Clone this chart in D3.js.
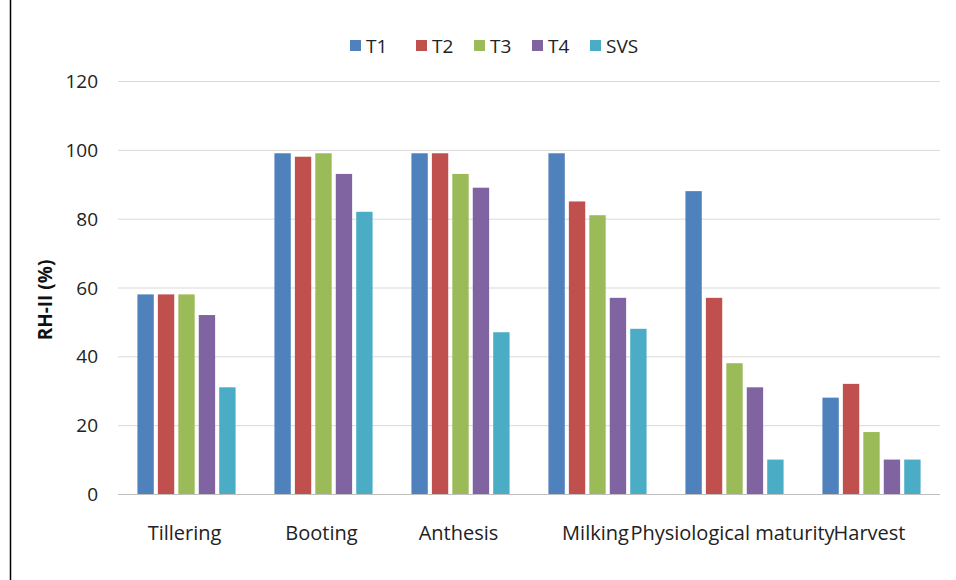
<!DOCTYPE html>
<html><head><meta charset="utf-8">
<script src="https://cdn.jsdelivr.net/npm/d3@7"></script>
<style>body{margin:0;background:#fff}svg{display:block;font-family:"Open Sans","Liberation Sans",sans-serif}</style>
</head><body><svg width="956" height="580"></svg>
<script>
const categories = ['Tillering', 'Booting', 'Anthesis', 'Milking', 'Physiological maturity', 'Harvest']
const seriesNames = ['T1', 'T2', 'T3', 'T4', 'SVS']
const T1 = [58, 99, 99, 99, 88, 28]
const T2 = [58, 98, 99, 85, 57, 32]
const T3 = [58, 99, 93, 81, 38, 18]
const T4 = [52, 93, 89, 57, 31, 10]
const SVS = [31, 82, 47, 48, 10, 10]
const yTicks = [0, 20, 40, 60, 80, 100, 120]
const colors = ['#4f81bd', '#c0504d', '#9bbb59', '#8064a2', '#4bacc6']

function draw () {
	const series = [T1, T2, T3, T4, SVS]
	const svg = d3.select('svg')
	const left = 118, right = 940, plotTop = 81, bottom = 494

	svg.append('rect').attr('x', 10.5).attr('y', -2).attr('width', 960).attr('height', 600)
		.attr('fill', 'none').attr('stroke', '#000').attr('stroke-width', 1.5)

	const y = d3.scaleLinear().domain([0, 120]).range([bottom, plotTop])
	const x = d3.scaleBand().domain(categories).range([left, right])
	const xs = d3.scaleBand().domain(seriesNames).range([0, x.bandwidth()]).paddingInner(0.2).paddingOuter(0.95)

	svg.append('g').selectAll('line').data(yTicks).join('line')
		.attr('x1', left).attr('x2', right).attr('y1', d => y(d) + 0.5).attr('y2', d => y(d) + 0.5)
		.attr('stroke', d => d === 0 ? '#bfbfbf' : '#d9d9d9')
	svg.append('g').selectAll('text').data(yTicks).join('text')
		.attr('x', 98).attr('y', d => y(d) + 7).attr('text-anchor', 'end')
		.attr('font-size', 19).attr('fill', '#222').text(d => d)

	const groups = svg.append('g').selectAll('g').data(categories).join('g')
		.attr('transform', d => `translate(${x(d)},0)`)
	groups.selectAll('rect').data((d, i) => series.map((s, j) => ({ name: seriesNames[j], v: s[i], c: colors[j] })))
		.join('rect')
		.attr('x', d => xs(d.name)).attr('width', xs.bandwidth())
		.attr('y', d => y(d.v)).attr('height', d => bottom - y(d.v)).attr('fill', d => d.c)

	svg.append('g').selectAll('text').data(categories).join('text')
		.attr('x', d => x(d) + x.bandwidth() / 2 - 2).attr('y', 540).attr('text-anchor', 'middle')
		.attr('font-size', 20).attr('fill', '#222').text(d => d)

	svg.append('text').attr('transform', 'translate(52,300) rotate(-90)').attr('text-anchor', 'middle')
		.attr('font-size', 19).attr('font-weight', 'bold').attr('fill', '#111').text('RH-II (%)')

	const legX = [350, 416, 474, 532, 590]
	const leg = svg.append('g').selectAll('g').data(seriesNames).join('g')
		.attr('transform', (d, i) => `translate(${legX[i]},40)`)
	leg.append('rect').attr('width', 11).attr('height', 11).attr('fill', (d, i) => colors[i])
	leg.append('text').attr('x', 16).attr('y', 13).attr('font-size', 19).attr('fill', '#222').text(d => d)
}
draw()
</script></body></html>
